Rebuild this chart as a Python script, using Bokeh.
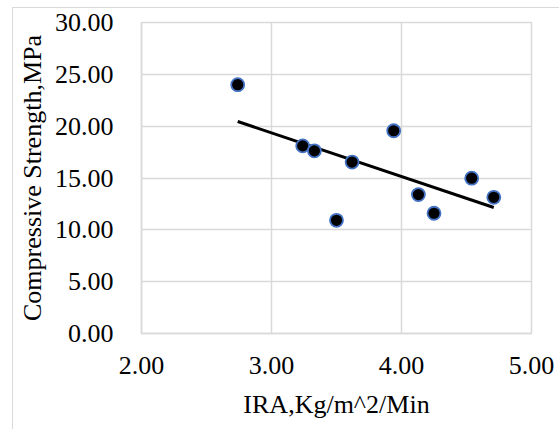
import numpy as np
from bokeh.plotting import figure
from bokeh.models import FixedTicker, PrintfTickFormatter, Range1d
from bokeh.embed import file_html
from bokeh.resources import INLINE

# data
ira = [2.74, 3.24, 3.33, 3.50, 3.62, 3.94, 4.13, 4.25, 4.54, 4.71]
strength = [24.00, 18.10, 17.62, 10.92, 16.54, 19.56, 13.40, 11.60, 14.98, 13.14]
x_ticks = [2, 3, 4, 5]
y_ticks = [0, 5, 10, 15, 20, 25, 30]
x_title = "IRA,Kg/m^2/Min"
y_title = "Compressive Strength,MPa"

# linear trendline over data range
slope, intercept = np.polyfit(ira, strength, 1)
trend_x = [min(ira), max(ira)]
trend_y = [slope * v + intercept for v in trend_x]

FONT = "Liberation Serif"
GRID = "#d9d9d9"

p = figure(width=547, height=422, output_backend="svg", toolbar_location=None,
           x_range=Range1d(2, 5), y_range=Range1d(0, 30),
           min_border_left=128, min_border_right=29, min_border_top=14, min_border_bottom=97)
p.styles = {"border-left": "1px solid #d9d9d9", "border-top": "1px solid #d9d9d9",
            "margin-left": "12px", "margin-top": "7px"}

p.line(trend_x, trend_y, line_color="black", line_width=3)
p.scatter(ira, strength, size=13, fill_color="black", line_color="#4472c4", line_width=1.8)

for ax in (p.xaxis[0], p.yaxis[0]):
    ax.major_label_text_font = FONT
    ax.major_label_text_font_size = "26px"
    ax.major_label_text_color = "#000000"
    ax.axis_label_text_font = FONT
    ax.axis_label_text_font_size = "26px"
    ax.axis_label_text_font_style = "normal"
    ax.axis_label_text_color = "#000000"
    ax.major_tick_line_color = None
    ax.minor_tick_line_color = None
    ax.axis_line_color = GRID
    ax.axis_line_width = 1.5
    ax.formatter = PrintfTickFormatter(format="%.2f")

p.xaxis[0].ticker = FixedTicker(ticks=x_ticks)
p.yaxis[0].ticker = FixedTicker(ticks=y_ticks)
p.xaxis[0].axis_label = x_title
p.yaxis[0].axis_label = y_title
p.xaxis[0].major_label_standoff = 17
p.yaxis[0].major_label_standoff = 22
p.xaxis[0].axis_label_standoff = 13
p.yaxis[0].axis_label_standoff = 5

p.xgrid.ticker = FixedTicker(ticks=x_ticks)
p.ygrid.ticker = FixedTicker(ticks=y_ticks)
p.xgrid.grid_line_color = GRID
p.ygrid.grid_line_color = GRID
p.xgrid.grid_line_width = 1.5
p.ygrid.grid_line_width = 1.5
p.outline_line_color = GRID
p.outline_line_width = 1.5
p.background_fill_color = "white"
p.border_fill_color = "white"

open("out.html", "w").write(file_html(p, INLINE))
